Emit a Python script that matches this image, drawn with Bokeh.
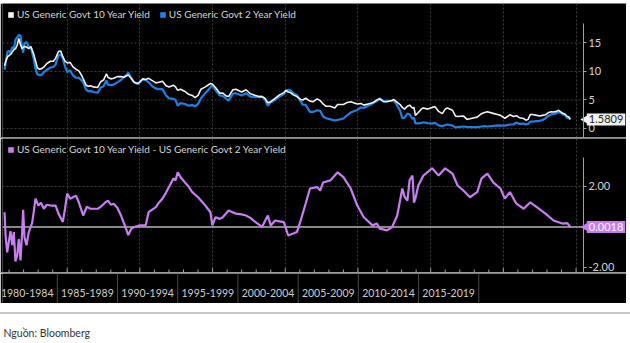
import math
from bokeh.plotting import figure
from bokeh.models import (Range1d, FixedTicker, Label, Legend, LegendItem, LinearAxis,
                          Div, Spacer, ColumnDataSource, NumeralTickFormatter)
from bokeh.layouts import column
from bokeh.embed import file_html
from bokeh.resources import INLINE
from bokeh.core.properties import value

# ---------------- data ----------------
top_years = [1980.69, 1980.80, 1980.90, 1981.00, 1981.10, 1981.22, 1981.33, 1981.45, 1981.56, 1981.67,
             1981.79, 1981.90, 1981.97, 1982.06, 1982.20, 1982.36, 1982.50, 1982.70, 1982.82, 1982.95,
             1983.10, 1983.25, 1983.40, 1983.60, 1983.85, 1984.05, 1984.20, 1984.40, 1984.55, 1984.70,
             1984.85, 1985.00, 1985.20, 1985.40, 1985.60, 1985.80, 1986.00, 1986.10, 1986.30, 1986.45,
             1986.60, 1986.80, 1987.10, 1987.30, 1987.50, 1987.70, 1987.80, 1988.00, 1988.20, 1988.45,
             1988.70, 1988.90, 1989.05, 1989.20, 1989.40, 1989.60, 1989.85, 1990.00, 1990.20, 1990.40,
             1990.60, 1990.85, 1991.10, 1991.30, 1991.55, 1991.80, 1992.00, 1992.30, 1992.45, 1992.60,
             1992.80, 1993.10, 1993.35, 1993.60, 1993.80, 1994.00, 1994.20, 1994.50, 1994.85, 1994.98,
             1995.20, 1995.50, 1995.70, 1995.95, 1996.10, 1996.40, 1996.60, 1997.00, 1997.30, 1997.60,
             1997.95, 1998.20, 1998.40, 1998.60, 1998.80, 1999.00, 1999.30, 1999.60, 1999.90, 2000.05,
             2000.20, 2000.35, 2000.55, 2000.80, 2001.05, 2001.20, 2001.40, 2001.70, 2001.90, 2002.20,
             2002.40, 2002.60, 2002.80, 2003.10, 2003.40, 2003.60, 2004.00, 2004.20, 2004.50, 2004.95,
             2005.20, 2005.40, 2005.70, 2006.00, 2006.30, 2006.50, 2006.75, 2007.00, 2007.35, 2007.45,
             2007.70, 2007.90, 2008.05, 2008.20, 2008.40, 2008.55, 2008.75, 2008.85, 2008.95, 2009.15,
             2009.40, 2009.50, 2009.80, 2010.10, 2010.30, 2010.55, 2010.80, 2011.00, 2011.15, 2011.50,
             2011.70, 2011.85, 2012.25, 2012.50, 2012.70, 2013.00, 2013.20, 2013.50, 2013.70, 2013.90,
             2014.30, 2014.60, 2014.80, 2015.10, 2015.45, 2015.70, 2015.90, 2016.10, 2016.40, 2016.55,
             2016.70, 2016.85, 2017.00, 2017.30, 2017.50, 2017.70, 2017.90, 2018.10, 2018.30, 2018.45,
             2018.65, 2018.80, 2018.95, 2019.05, 2019.25, 2019.40, 2019.50, 2019.60]

ten_year = [11.0, 12.0, 12.6, 12.8, 13.0, 13.4, 13.8, 14.0, 14.6, 15.8,
            14.7, 14.0, 14.2, 14.4, 14.3, 14.0, 14.4, 13.0, 11.9, 10.6,
            10.4, 10.5, 10.8, 11.4, 11.8, 11.8, 12.3, 13.5, 13.6, 12.6,
            11.8, 11.5, 11.6, 10.8, 10.4, 10.1, 9.3, 8.7, 7.6, 7.4,
            7.5, 7.3, 7.2, 8.2, 8.5, 9.6, 9.0, 8.7, 8.8, 9.1,
            9.1, 9.0, 9.2, 9.4, 8.8, 8.1, 7.9, 8.2, 8.7, 8.6,
            8.8, 8.4, 8.0, 8.1, 8.3, 7.5, 7.3, 7.6, 7.3, 6.7,
            6.9, 6.5, 6.0, 5.8, 5.4, 5.8, 6.9, 7.3, 7.9, 7.8,
            7.2, 6.2, 6.2, 5.7, 5.6, 6.8, 6.9, 6.4, 6.8, 6.1,
            5.8, 5.6, 5.6, 5.3, 4.5, 4.7, 5.3, 5.9, 6.3, 6.7,
            6.4, 6.3, 5.9, 5.6, 5.1, 5.0, 5.3, 4.8, 4.7, 5.2,
            4.9, 4.3, 3.9, 3.9, 3.6, 4.2, 4.2, 4.5, 4.7, 4.3,
            4.4, 4.1, 4.3, 4.5, 5.0, 5.2, 4.7, 4.7, 4.9, 5.1,
            4.6, 4.2, 3.7, 3.4, 3.9, 4.1, 3.6, 3.7, 2.3, 2.8,
            3.5, 3.6, 3.4, 3.7, 3.8, 3.0, 2.6, 3.4, 3.6, 3.2,
            2.2, 2.1, 2.2, 1.6, 1.7, 1.9, 2.0, 2.6, 2.8, 2.95,
            2.65, 2.45, 2.3, 1.8, 2.4, 2.1, 2.25, 1.9, 1.75, 1.45,
            1.6, 2.45, 2.45, 2.3, 2.2, 2.3, 2.4, 2.8, 2.95, 2.9,
            3.0, 3.2, 2.9, 2.7, 2.5, 2.1, 2.05, 1.5809]

two_year = [10.3, 12.0, 13.5, 13.6, 13.2, 14.3, 14.0, 15.6, 16.0, 16.4,
            16.3, 14.2, 13.3, 14.9, 15.2, 14.3, 14.2, 12.2, 10.5, 9.5,
            9.4, 9.4, 9.9, 10.3, 10.7, 10.8, 11.2, 12.8, 13.0, 12.3,
            10.9, 9.9, 10.2, 9.3, 8.9, 8.9, 8.4, 8.1, 6.8, 6.5,
            6.6, 6.4, 6.3, 7.2, 7.4, 8.4, 7.7, 7.6, 7.7, 8.1,
            8.5, 9.0, 9.3, 9.8, 8.9, 8.1, 7.8, 8.1, 8.6, 8.5,
            8.1, 7.4, 7.0, 6.9, 6.9, 5.8, 5.3, 5.2, 5.0, 4.0,
            4.45, 4.3, 4.0, 4.1, 3.9, 4.3, 5.3, 6.2, 7.2, 7.7,
            6.7, 5.8, 5.7, 5.2, 4.9, 6.1, 6.2, 5.8, 6.2, 5.6,
            5.55, 5.5, 5.6, 5.1, 4.0, 4.6, 5.0, 5.6, 6.05, 6.6,
            6.8, 6.7, 6.2, 5.85, 4.8, 4.2, 4.15, 2.9, 2.9, 3.2,
            3.1, 2.1, 1.8, 1.6, 1.4, 1.5, 1.75, 2.2, 2.8, 3.25,
            3.7, 3.6, 4.0, 4.4, 4.8, 5.3, 4.8, 4.85, 4.9, 5.0,
            4.0, 3.1, 1.8, 1.9, 2.6, 2.5, 1.7, 1.9, 0.9, 0.9,
            1.0, 1.1, 0.95, 0.85, 1.0, 0.55, 0.4, 0.6, 0.7, 0.5,
            0.2, 0.25, 0.35, 0.28, 0.25, 0.25, 0.25, 0.35, 0.4, 0.35,
            0.45, 0.55, 0.5, 0.5, 0.7, 0.7, 1.05, 0.8, 0.85, 0.7,
            0.8, 1.2, 1.2, 1.3, 1.35, 1.5, 1.8, 2.2, 2.5, 2.55,
            2.7, 2.85, 2.75, 2.55, 2.3, 1.85, 1.85, 1.5791]

spread_years = [1980.69, 1980.76, 1980.87, 1981.10, 1981.22, 1981.33, 1981.44, 1981.56, 1981.67, 1981.79,
                1981.90, 1981.97, 1982.06, 1982.20, 1982.36, 1982.59, 1982.70, 1982.82, 1983.02, 1983.20,
                1983.39, 1983.60, 1983.85, 1984.20, 1984.40, 1984.70, 1984.85, 1985.00, 1985.20, 1985.40,
                1985.60, 1985.80, 1986.10, 1986.35, 1986.60, 1987.10, 1987.40, 1987.60, 1987.80, 1988.00,
                1988.20, 1988.45, 1988.70, 1989.00, 1989.20, 1989.40, 1989.60, 1990.00, 1990.40, 1990.60,
                1991.10, 1991.30, 1991.55, 1991.80, 1992.00, 1992.30, 1992.45, 1992.60, 1992.80, 1993.10,
                1993.35, 1993.60, 1994.00, 1994.50, 1994.85, 1994.98, 1995.20, 1995.50, 1995.70, 1996.10,
                1996.60, 1997.00, 1997.30, 1997.60, 1997.95, 1998.20, 1998.40, 1998.80, 1999.00, 1999.30,
                1999.60, 1999.90, 2000.20, 2000.55, 2000.80, 2001.05, 2001.40, 2001.70, 2002.20, 2002.40,
                2002.60, 2003.10, 2003.60, 2004.00, 2004.50, 2004.95, 2005.40, 2006.00, 2006.30, 2006.50,
                2007.00, 2007.35, 2007.70, 2008.05, 2008.20, 2008.40, 2008.55, 2008.75, 2008.85, 2008.95,
                2009.15, 2009.50, 2010.10, 2010.55, 2011.00, 2011.50, 2011.85, 2012.25, 2012.70, 2013.20,
                2013.50, 2013.90, 2014.30, 2014.80, 2015.10, 2015.45, 2015.90, 2016.40, 2016.85, 2017.30,
                2017.90, 2018.45, 2019.05, 2019.40, 2019.60]

spread = [0.73, -0.4, -1.25, -0.2, -0.9, -0.25, -1.7, -1.4, -0.6, -1.65,
          -0.25, 0.85, -0.5, -0.9, -0.25, 0.2, 0.75, 1.4, 1.06, 1.2,
          0.9, 1.1, 1.06, 1.06, 0.66, 0.25, 0.9, 1.65, 1.4, 1.47,
          1.55, 1.22, 0.57, 1.0, 0.9, 0.9, 1.06, 1.2, 1.3, 1.1,
          1.15, 0.95, 0.57, 0.0, -0.4, -0.1, 0.0, 0.08, 0.08, 0.73,
          0.98, 1.2, 1.4, 1.7, 1.97, 2.4, 2.3, 2.7, 2.46, 2.2,
          2.0, 1.72, 1.47, 1.06, 0.73, 0.08, 0.48, 0.4, 0.48, 0.81,
          0.66, 0.62, 0.57, 0.45, 0.24, 0.12, 0.0, 0.57, 0.07, 0.32,
          0.28, 0.24, -0.42, -0.32, -0.25, 0.3, 1.15, 1.9, 1.97, 1.8,
          2.2, 2.3, 2.7, 2.46, 1.9, 1.06, 0.48, 0.08, 0.17, -0.08,
          -0.17, 0.0, 0.57, 1.9, 1.5, 1.3, 2.3, 2.54, 1.2, 1.4,
          2.05, 2.54, 2.9, 2.54, 2.9, 2.64, 2.05, 1.8, 1.47, 1.72,
          2.4, 2.64, 2.2, 1.9, 1.4, 1.72, 1.15, 0.9, 1.22, 0.98,
          0.66, 0.32, 0.17, 0.19, 0.0018]

periods = ["1980-1984", "1985-1989", "1990-1994", "1995-1999",
           "2000-2004", "2005-2009", "2010-2014", "2015-2019"]

yield_ticks = [0, 5, 10, 15]
spread_ticks = [-2, 2]
spread_grid = [2]
grid_years = [1985, 1990, 1995, 2000, 2005, 2010, 2015, 2020]
minor_years = [y for y in range(1981, 2021) if y % 5 != 0]

label_10 = "US Generic Govt 10 Year Yield"
label_2 = "US Generic Govt 2 Year Yield"
label_sp = "US Generic Govt 10 Year Yield - US Generic Govt 2 Year Yield"

# ---------------- styling ----------------
BG = "#000000"
W = 626
WHITE = "#f2f2f2"
BLUE = "#1f7fe3"
PURPLE = "#c67ef0"
AXIS = "#a0a0a0"
TXT = "#d6d6d6"
GRID = "#3d3d3d"
FONT = "Lato"
FRAME_H = 134

X_START, X_END = 1980.55, 2023.47   # frame spans the whole black width
AXIS_AT = 2020.51                    # where the value axis sits
LABEL_AT = 2020.74                   # left edge of the last-value tags
xr = Range1d(X_START, X_END)


def base(yr, ticks, grid_ticks, bounds):
    p = figure(width=W, height=FRAME_H, x_range=xr, y_range=yr,
               output_backend="svg", toolbar_location=None,
               x_axis_location=None, y_axis_location=None,
               min_border_left=2, min_border_right=0,
               min_border_top=0, min_border_bottom=0,
               background_fill_color=BG, border_fill_color=BG,
               outline_line_color=None)
    p.xgrid.ticker = FixedTicker(ticks=grid_years)
    p.xgrid.grid_line_color = GRID
    p.xgrid.grid_line_dash = "2 2"
    p.ygrid.visible = False
    # horizontal grid lines stop at the value axis
    p.segment(x0=[X_START] * len(grid_ticks), y0=grid_ticks,
              x1=[AXIS_AT] * len(grid_ticks), y1=grid_ticks,
              line_color=GRID, line_dash="2 2", line_width=1)
    ax = LinearAxis(fixed_location=AXIS_AT, bounds=bounds,
                    ticker=FixedTicker(ticks=ticks, minor_ticks=[]))
    ax.axis_line_color = AXIS
    ax.major_tick_line_color = AXIS
    ax.major_tick_in = 0
    ax.major_tick_out = 3
    ax.minor_tick_line_color = None
    ax.major_label_standoff = 2
    ax.major_label_text_color = TXT
    ax.major_label_text_font = FONT
    ax.major_label_text_font_size = "11px"
    p.add_layout(ax, "right")
    return p, ax


def make_legend(p, items, x0, y0):
    rs = []
    for lab, col in items:
        src = ColumnDataSource(dict(l=[x0], r=[x0], t=[y0], b=[y0]))
        r = p.quad(left="l", right="r", top="t", bottom="b", source=src,
                   fill_color=col, line_color=None)
        rs.append(LegendItem(label=lab, renderers=[r]))
    lg = Legend(items=rs, orientation="horizontal", location="top_left",
                background_fill_alpha=0, border_line_color=None,
                label_text_color=TXT, label_text_font=FONT,
                label_text_font_size="10px", glyph_width=7, glyph_height=7,
                label_standoff=3, spacing=9, padding=0, margin=5,
                label_height=10)
    p.add_layout(lg)


def end_label(p, v, txt_col, bg_col):
    p.scatter(x=[AXIS_AT + 0.1], y=[v], marker="triangle", angle=math.pi / 2,
              size=8, fill_color=bg_col, line_color=None)
    p.add_layout(Label(x=LABEL_AT, y=v, text=f"{v:.4f}", text_align="left",
                       text_baseline="middle", text_font=FONT,
                       text_font_size="11px", text_color=txt_col,
                       background_fill_color=bg_col, padding=2))


# ---------------- top panel ----------------
yr1 = Range1d(-1.58, 21.93)
p1, ax1 = base(yr1, yield_ticks, yield_ticks, (-1.58, 18.4))
p1.line(top_years, two_year, line_color=BLUE, line_width=2.2)
p1.line(top_years, ten_year, line_color=WHITE, line_width=1.6)
make_legend(p1, [(label_10, WHITE), (label_2, BLUE)], top_years[0], ten_year[0])
end_label(p1, ten_year[-1], "#222222", "#f2f2f2")

sep1 = Div(text="", width=W, height=1, margin=0,
           styles={"background-color": "#8f8f8f"})

# ---------------- bottom panel ----------------
yr2 = Range1d(-2.247, 4.37)
p2, ax2 = base(yr2, spread_ticks, spread_grid, (-2.247, 3.43))
ax2.formatter = NumeralTickFormatter(format="0.00")
p2.segment(x0=[X_START], y0=[0], x1=[AXIS_AT], y1=[0], line_color="#b4b4b4", line_width=1.5)
p2.line(spread_years, spread, line_color=PURPLE, line_width=2.2)
# year tick marks on the bottom edge
p2.scatter(x=grid_years, y=[yr2.start] * len(grid_years), marker="dash",
           angle=math.pi / 2, size=9, line_color=AXIS, line_width=1)
p2.scatter(x=minor_years, y=[yr2.start] * len(minor_years), marker="dash",
           angle=math.pi / 2, size=6, line_color=AXIS, line_width=1)
make_legend(p2, [(label_sp, PURPLE)], spread_years[0], spread[0])
end_label(p2, spread[-1], "#ffffff", PURPLE)

sep2 = Div(text="", width=W, height=1, margin=0,
           styles={"background-color": "#9a9a9a"})

# ---------------- period strip ----------------
p3 = figure(width=W, height=30, x_range=Range1d(0.0894, 10.454), y_range=Range1d(0, 1),
            output_backend="svg", toolbar_location=None,
            x_axis_location=None, y_axis_location=None,
            min_border_left=0, min_border_right=0, min_border_top=0, min_border_bottom=0,
            background_fill_color=BG, border_fill_color=BG, outline_line_color=None)
p3.grid.visible = False
bounds = [i + 1 for i in range(len(periods))]
centers = [i + 0.5 for i in range(len(periods))]
p3.segment(x0=bounds, y0=[0] * len(bounds), x1=bounds, y1=[1] * len(bounds),
           line_color="#4a4a4a", line_width=1)
p3.text(x=centers, y=[0.36] * len(centers), text=periods,
        text_align="center", text_baseline="middle",
        text_font=value(FONT), text_font_size="10.5px", text_color="#cfcfcf")

# ---------------- source footer ----------------
sep3 = Div(text="", width=630, height=2, margin=0,
           styles={"background-color": "#c8c8c8"})
p4 = figure(width=630, height=29, x_range=Range1d(0, 1), y_range=Range1d(0, 1),
            output_backend="svg", toolbar_location=None,
            x_axis_location=None, y_axis_location=None,
            min_border_left=0, min_border_right=0, min_border_top=0, min_border_bottom=0,
            background_fill_color="white", border_fill_color="white", outline_line_color=None)
p4.grid.visible = False
p4.add_layout(Label(x=1, y=11, x_units="screen", y_units="screen", text="Nguồn: Bloomberg",
                    text_baseline="middle", text_font=FONT, text_font_size="10.5px",
                    text_color="#333333"))

layout = column(Spacer(width=W, height=3), p1, sep1, p2, sep2, p3,
                Spacer(width=W, height=9), sep3, p4, spacing=0)

open("out.html", "w").write(file_html(layout, INLINE))
